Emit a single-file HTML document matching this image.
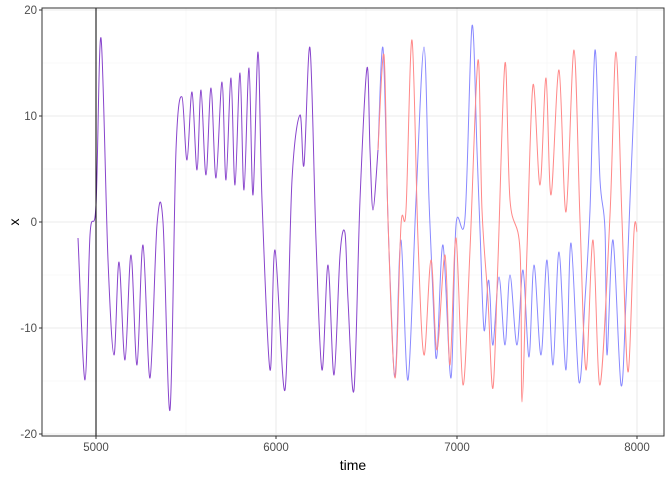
<!DOCTYPE html>
<html><head><meta charset="utf-8"><style>
body{margin:0;background:#fff;}
svg text{font-family:"Liberation Sans",sans-serif;}
</style></head><body>
<svg id="s" width="672" height="480" viewBox="0 0 672 480" xmlns="http://www.w3.org/2000/svg">
<rect width="672" height="480" fill="#fff"/>
<g stroke="#F3F3F3" stroke-width="0.6">
<line x1="42" x2="664" y1="63" y2="63"/><line x1="42" x2="664" y1="169" y2="169"/><line x1="42" x2="664" y1="275" y2="275"/><line x1="42" x2="664" y1="381" y2="381"/>
<line x1="186" x2="186" y1="8" y2="436"/><line x1="366" x2="366" y1="8" y2="436"/><line x1="547" x2="547" y1="8" y2="436"/>
</g>
<g stroke="#EBEBEB" stroke-width="1.1">
<line x1="42" x2="664" y1="10" y2="10"/><line x1="42" x2="664" y1="116" y2="116"/><line x1="42" x2="664" y1="222" y2="222"/><line x1="42" x2="664" y1="328" y2="328"/><line x1="42" x2="664" y1="434" y2="434"/>
<line x1="276" x2="276" y1="8" y2="436"/><line x1="457" x2="457" y1="8" y2="436"/><line x1="637" x2="637" y1="8" y2="436"/>
</g>
<g fill="none" stroke-width="1" stroke-linejoin="round">
<polyline class="c" stroke="#8888FF" points="378,150 383,48 388,220 393,355 396,365 401,240 408,380 416,200 424,47 429,200 434,320 437,355 443,245 451,378 456,225 465,218 472,26 477,150 480,230 484,330 488,282 490,295 493,345 499,277 505,345 510,275 517,345 523,270 529,357 534,265 541,355 547,260 553,365 559,252 566,370 571,243 579,382 585,300 590,210 595,50 600,180 605,230 607,355 613,240 621,385 626,300 630,200 636,56"/>
<polyline class="c" stroke="#FF8888" points="378,150 384,55 388,220 395,378 401,225 406,210 412,40 418,240 424,355 431,260 437,350 445,255 450,365 456,238 463,385 470,250 478,60 482,210 488,300 493,388 498,260 505,63 510,200 520,250 522,402 527,250 533,85 540,185 546,78 551,195 559,70 566,212 574,50 580,220 586,370 593,240 600,385 610,215 616,52 622,220 628,372 634,232 637,232"/>
<polyline class="c" stroke="#8844CC" points="78,238 85,380 90,235 96,205 101,38 108,260 114,355 119,262 125,360 131,255 137,365 143,245 150,378 157,225 163,222 170,410 176,150 182,97 187,160 192,92 197,170 201,90 206,175 211,88 216,178 222,82 226,180 231,78 235,185 240,73 244,190 249,68 253,195 258,52 262,200 270,370 275,250 285,390 292,180 300,115 304,165 310,48 316,240 322,370 328,265 334,375 340,255 345,233 348,300 354,390 360,200 367,68 370,150 373,210 378,150"/>
</g>
<line x1="96" x2="96" y1="8" y2="436" stroke="#000" stroke-width="1"/>
<rect x="42" y="8" width="622" height="428" fill="none" stroke="#333" stroke-width="1"/>
<g fill="#4D4D4D" font-size="11.5" text-anchor="end">
<text x="37" y="14">20</text><text x="37" y="120">10</text><text x="37" y="226">0</text><text x="37" y="332">-10</text><text x="37" y="438">-20</text>
</g>
<g stroke="#333"><line x1="39" x2="42" y1="10" y2="10"/><line x1="39" x2="42" y1="116" y2="116"/><line x1="39" x2="42" y1="222" y2="222"/><line x1="39" x2="42" y1="328" y2="328"/><line x1="39" x2="42" y1="434" y2="434"/>
<line x1="96" x2="96" y1="436" y2="439"/><line x1="276" x2="276" y1="436" y2="439"/><line x1="457" x2="457" y1="436" y2="439"/><line x1="637" x2="637" y1="436" y2="439"/></g>
<g fill="#4D4D4D" font-size="11.5" text-anchor="middle">
<text x="96" y="451">5000</text><text x="276" y="451">6000</text><text x="457" y="451">7000</text><text x="637" y="451">8000</text>
</g>
<text x="353" y="470" font-size="14" text-anchor="middle" fill="#000">time</text>
<text x="19" y="222" font-size="14" text-anchor="middle" fill="#000" transform="rotate(-90 19 222)">x</text>
</svg>
<script>
document.querySelectorAll('polyline.c').forEach(function(pl){
 var p=pl.getAttribute('points').trim().split(/\s+/).map(function(s){return s.split(',').map(Number);});
 var d='M'+p[0][0]+','+p[0][1];
 for(var i=0;i<p.length-1;i++){
  var a=p[Math.max(i-1,0)],b=p[i],c=p[i+1],e=p[Math.min(i+2,p.length-1)];
  var c1=[b[0]+(c[0]-a[0])/6,b[1]+(c[1]-a[1])/6],c2=[c[0]-(e[0]-b[0])/6,c[1]-(e[1]-b[1])/6];
  d+=' C'+c1[0].toFixed(1)+','+c1[1].toFixed(1)+' '+c2[0].toFixed(1)+','+c2[1].toFixed(1)+' '+c[0]+','+c[1];
 }
 var path=document.createElementNS('http://www.w3.org/2000/svg','path');
 path.setAttribute('d',d);path.setAttribute('stroke',pl.getAttribute('stroke'));
 path.setAttribute('fill','none');path.setAttribute('stroke-width','1');
 pl.parentNode.replaceChild(path,pl);
});
</script>
</body></html>
